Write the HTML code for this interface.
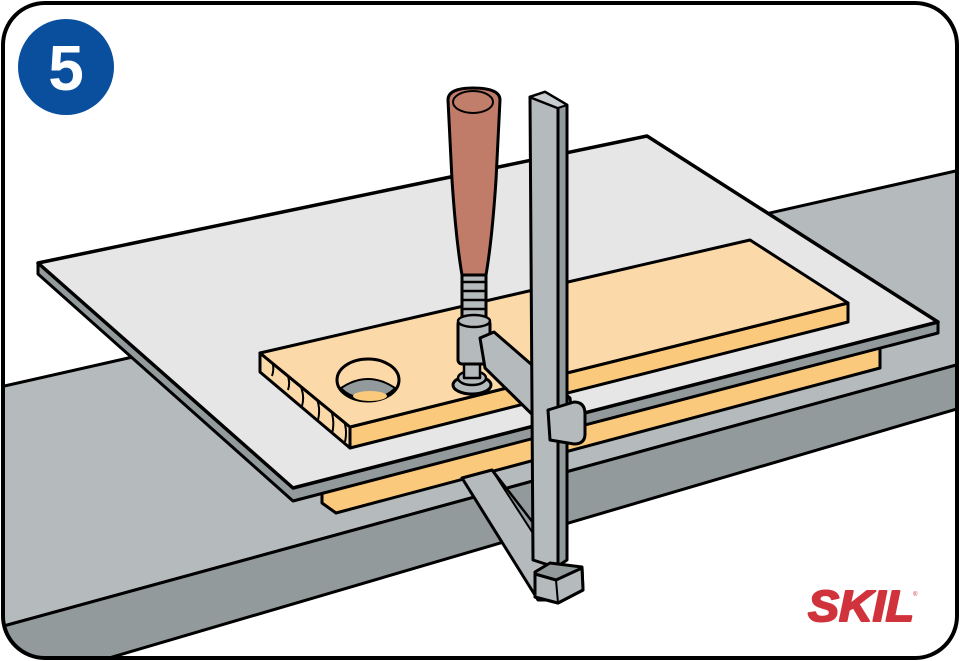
<!DOCTYPE html>
<html><head><meta charset="utf-8"><style>
html,body{margin:0;padding:0;background:#fff;}
svg{display:block;}
</style></head><body>
<svg width="960" height="661" viewBox="0 0 960 661" xmlns="http://www.w3.org/2000/svg" stroke-linejoin="round">
<defs><clipPath id="fr"><rect x="3" y="3" width="954" height="655" rx="42"/></clipPath>
<clipPath id="endc"><polygon points="260,353 350,427 350,448 260,372"/></clipPath></defs>
<g clip-path="url(#fr)">
<polygon points="0,387 960,170 960,364 0,627" fill="#b5babc" stroke="#000" stroke-width="3"/>
<polygon points="0,627 960,364 960,408 0,690" fill="#939a9c" stroke="#000" stroke-width="3"/>
<polygon points="322,490 880,346 880,368 336,513 322,503" fill="#fbc97c" stroke="#000" stroke-width="3"/>
<!-- lower jaw -->
<polygon points="462,478 492,470 560,558 560,600 538,600" fill="#b5babc" stroke="#000" stroke-width="3"/>
<polygon points="492,470 560,558 560,575" fill="#939a9c" stroke="#000" stroke-width="2"/>
<polygon points="38,263 38,274 293,501 938,333 938,322 293,486" fill="#939a9c" stroke="#000" stroke-width="3"/>
<polygon points="38,263 647,136 938,322 293,488" fill="#e6e6e6" stroke="#000" stroke-width="3.5"/>
<!-- wood board -->
<polygon points="260,353 350,427 350,448 260,372" fill="#fcd9a8" stroke="#000" stroke-width="3"/>
<g clip-path="url(#endc)" fill="none" stroke="#000" stroke-width="2">
<path d="M268,356 q8,8 4,20"/><path d="M282,366 q10,12 6,24"/><path d="M296,378 q10,14 6,28"/><path d="M312,390 q10,14 6,30"/><path d="M328,404 q8,14 4,30"/><path d="M342,416 q6,12 3,26"/>
</g>
<polygon points="350,427 848,303 848,322 350,448" fill="#fbc97c" stroke="#000" stroke-width="3"/>
<polygon points="260,353 750,240 848,303 350,427" fill="#fcd9a8" stroke="#000" stroke-width="3"/>
<!-- hole -->
<ellipse cx="368" cy="380" rx="31" ry="21" fill="#fcd9a8" stroke="#000" stroke-width="3"/>
<path d="M341,388 Q368,370 395,388 A31,21 0 0 1 341,388 Z" fill="#939a9c" stroke="#000" stroke-width="2"/>
<ellipse cx="370" cy="396" rx="17" ry="5" fill="#fbc97c"/>
<!-- bottom screw pad -->
<ellipse cx="472" cy="385" rx="19" ry="9" fill="#b5babc" stroke="#000" stroke-width="3"/>
<ellipse cx="472" cy="378" rx="14" ry="7" fill="#b5babc" stroke="#000" stroke-width="2.5"/>
<rect x="464" y="358" width="16" height="20" fill="#b5babc" stroke="#000" stroke-width="2.5"/>
<!-- screw threads -->
<rect x="462" y="272" width="24" height="50" fill="#b5babc" stroke="#000" stroke-width="3"/>
<path d="M463,282h22M463,291h22M463,300h22M463,309h22" stroke="#000" stroke-width="2.5"/>
<!-- collar -->
<rect x="458" y="320" width="32" height="44" rx="4" fill="#b5babc" stroke="#000" stroke-width="3"/>
<ellipse cx="474" cy="321" rx="16" ry="6" fill="#b5babc" stroke="#000" stroke-width="2.5"/>
<!-- handle -->
<path d="M448,100 Q448,88 473,88 Q500,88 500,100 L496,180 Q492,240 486,275 L462,275 Q456,240 452,180 Z" fill="#c07c69" stroke="#000" stroke-width="3"/>
<ellipse cx="473" cy="102" rx="20" ry="11" fill="#c17f6b" stroke="#000" stroke-width="2"/>
<!-- upper jaw arm -->
<polygon points="480,338 494,332 570,398 575,440 552,434 485,368" fill="#b5babc" stroke="#000" stroke-width="3"/>
<!-- vertical bar -->
<polygon points="530,97 545,92 567,105 567,560 558,566 558,108" fill="#939a9c" stroke="#000" stroke-width="3"/>
<polygon points="530,97 558,108 558,568 533,560" fill="#b5babc" stroke="#000" stroke-width="3"/>
<polygon points="530,97 545,92 567,105 558,108" fill="#c9cdcf" stroke="#000" stroke-width="2"/>
<!-- sleeve -->
<path d="M548,410 L574,402 Q585,402 585,414 L585,434 Q585,444 574,444 L550,440 Z" fill="#b5babc" stroke="#000" stroke-width="3"/>
<!-- foot -->
<polygon points="535,572 550,563 582,567 583,590 558,603 535,597" fill="#939a9c" stroke="#000" stroke-width="3"/>
<polygon points="535,574 556,580 582,568 583,590 558,603 535,597" fill="#b5babc" stroke="#000" stroke-width="3"/>
<line x1="556" y1="580" x2="558" y2="603" stroke="#000" stroke-width="2"/>
</g>
<rect x="3" y="3" width="954" height="655" rx="42" fill="none" stroke="#000" stroke-width="4"/>
<circle cx="66" cy="67" r="48" fill="#0a4f9e"/>
<text x="66" y="90" text-anchor="middle" font-family="Liberation Sans, sans-serif" font-weight="bold" font-size="64" fill="#fff">5</text>
<text x="808" y="621" font-family="Liberation Sans, sans-serif" font-weight="bold" font-style="italic" font-size="44" fill="#d0333b" stroke="#d0333b" stroke-width="2" textLength="106" lengthAdjust="spacingAndGlyphs">SKIL</text>
<text x="913" y="596" font-family="Liberation Sans, sans-serif" font-size="6" fill="#d0333b">®</text>
</svg>
</body></html>
